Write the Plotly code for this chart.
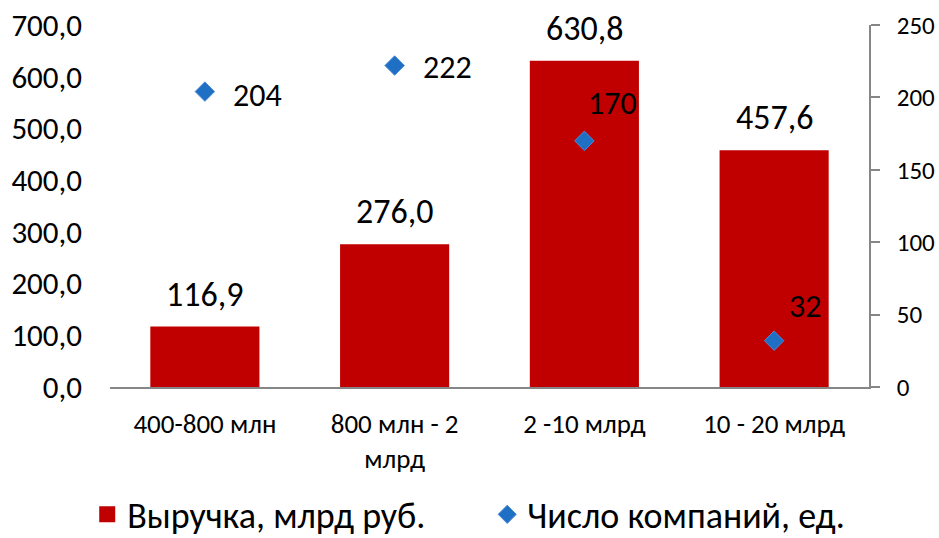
import plotly.graph_objects as go

categories = ["400-800 млн", "800 млн - 2<br>млрд", "2 -10 млрд", "10 - 20 млрд"]
revenue = [116.9, 276.0, 630.8, 457.6]
companies = [204, 222, 170, 32]
# label offsets (px) for the company-count labels
lab_dx = [26, 26, 2, 13]
lab_dy = [-4, -2, 37, 34]

FONT = "Carlito, Calibri, sans-serif"
RED = "#C00000"
BLUE = "#1F6FC5"

fig = go.Figure()
fig.add_trace(go.Bar(
    x=categories, y=revenue, name="Выручка, млрд руб.",
    marker=dict(color=RED, line=dict(width=0)),
    width=0.575, showlegend=False,
))
fig.add_trace(go.Scatter(
    x=categories, y=companies, name="Число компаний, ед.", yaxis="y2",
    mode="markers", showlegend=False,
    marker=dict(symbol="diamond", size=15, color=BLUE,
                line=dict(color="#4A8BD6", width=1)),
    cliponaxis=False,
))
# legend entries
fig.add_trace(go.Scatter(
    x=[None], y=[None], name="Выручка, млрд руб.", mode="markers",
    marker=dict(symbol="square", size=18, color=RED),
))
fig.add_trace(go.Scatter(
    x=[None], y=[None], name="Число компаний, ед.", mode="markers",
    marker=dict(symbol="diamond", size=14, color=BLUE, line=dict(color="#4A8BD6", width=1)),
))

annotations = []
for c, v in zip(categories, revenue):
    annotations.append(dict(
        x=c, y=v, xref="x", yref="y", text=f"{v:.1f}".replace(".", ","),
        showarrow=False, xanchor="center", yanchor="bottom", yshift=10,
        font=dict(size=34, color="black", family=FONT),
    ))
for c, v, dx, dy in zip(categories, companies, lab_dx, lab_dy):
    annotations.append(dict(
        x=c, y=v, xref="x", yref="y2", text=str(v),
        showarrow=False, xanchor="left", yanchor="middle", xshift=dx, yshift=dy,
        font=dict(size=32, color="black", family=FONT),
    ))

fig.update_layout(
    width=939, height=538,
    margin=dict(l=110, r=70, t=25, b=151, autoexpand=False),
    paper_bgcolor="white", plot_bgcolor="white",
    separators=", ",
    font=dict(family=FONT, color="black"),
    bargap=0.425,
    showlegend=True,
    annotations=annotations,
    legend=dict(orientation="h", x=-0.03, xanchor="left", y=-0.352, yanchor="middle",
                font=dict(size=36, family=FONT), itemsizing="trace",
                traceorder="normal", entrywidth=355, tracegroupgap=0),
    xaxis=dict(showline=True, linecolor="#868686", linewidth=1.5,
               showgrid=False, ticks="", tickfont=dict(size=27, family=FONT),
               ticklabelstandoff=12, zeroline=False),
    yaxis=dict(range=[0, 700], dtick=100, tickformat=".1f", showgrid=False,
               showline=False, zeroline=False, ticks="",
               tickfont=dict(size=31, family=FONT), ticklabelstandoff=27),
    yaxis2=dict(range=[0, 250], dtick=50, overlaying="y", side="right",
                showgrid=False, showline=True, linecolor="#868686", linewidth=1.5,
                ticks="outside", ticklen=9, tickcolor="#868686", tickwidth=1.5,
                zeroline=False, tickfont=dict(size=25, family=FONT),
                ticklabelstandoff=12),
)

fig.write_html("out.html", config={"displayModeBar": False},
               post_script="document.body.style.margin='0';document.body.style.overflow='hidden';")
